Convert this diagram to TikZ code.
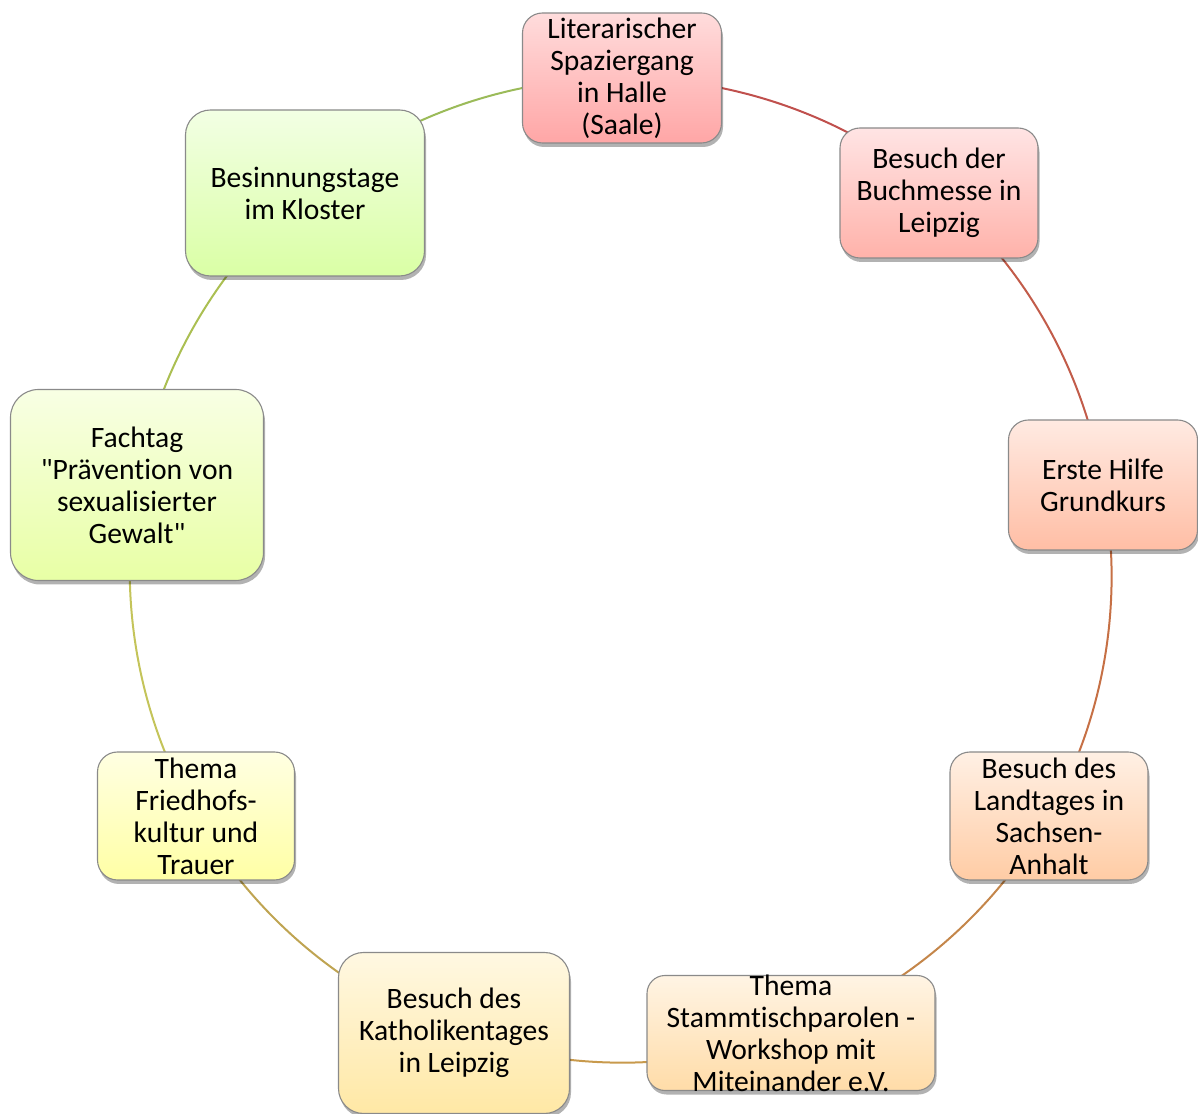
\documentclass[tikz,border=0pt]{standalone}
\usepackage{fontspec}
\setmainfont{Carlito}
\newfontfamily\calib{Carlito}[Ligatures=NoCommon]
\usetikzlibrary{shadows,backgrounds}
\definecolor{boxgray}{HTML}{8A8A8A}
\definecolor{cA}{HTML}{C0504D}
\definecolor{cB}{HTML}{C25C4A}
\definecolor{cC}{HTML}{C67045}
\definecolor{cD}{HTML}{C4864A}
\definecolor{cE}{HTML}{C89A4C}
\definecolor{cF}{HTML}{BFA452}
\definecolor{cG}{HTML}{C4C45A}
\definecolor{cH}{HTML}{ABBF52}
\definecolor{cI}{HTML}{9BBB59}
\begin{document}
\begin{tikzpicture}[x=1pt,y=1pt,
  cyc/.style={draw=boxgray, line width=1.1pt, align=center, inner sep=0pt,
    font=\calib\fontsize{29.6}{32}\selectfont,
    drop shadow={shadow xshift=1.5pt, shadow yshift=-4pt, opacity=0.3, fill=black}},
  txt/.style={align=center, inner sep=0pt, font=\calib\fontsize{29.6}{32}\selectfont},
  link/.style={line width=2pt, bend left=20, looseness=0.88}]
\useasboundingbox (0,0) rectangle (1198,1113);

\node[cyc, minimum width=199, minimum height=130, rounded corners=20,
  top color={rgb,255:red,255;green,220;blue,220}, bottom color={rgb,255:red,255;green,166;blue,166}]
  (n1) at (622,1035) {Literarischer\\Spaziergang\\in Halle\\(Saale)};
\node[cyc, minimum width=198, minimum height=130, rounded corners=20,
  top color={rgb,255:red,255;green,228;blue,228}, bottom color={rgb,255:red,255;green,178;blue,170}]
  (n2) at (939,920) {Besuch der\\Buchmesse in\\Leipzig};
\node[cyc, minimum width=189, minimum height=130, rounded corners=20,
  top color={rgb,255:red,255;green,234;blue,226}, bottom color={rgb,255:red,255;green,190;blue,165}]
  (n3) at (1103,628) {Erste Hilfe\\Grundkurs};
\node[cyc, minimum width=198, minimum height=128, rounded corners=20,
  top color={rgb,255:red,255;green,240;blue,228}, bottom color={rgb,255:red,255;green,204;blue,165}]
  (n4) at (1049,297) {Besuch des\\Landtages in\\Sachsen-\\Anhalt};
\node[cyc, minimum width=288, minimum height=115, rounded corners=18,
  top color={rgb,255:red,255;green,244;blue,228}, bottom color={rgb,255:red,255;green,220;blue,168}]
  (n5) at (791,80) {};
\node[txt] (n5t) at (n5.center) {Thema\\Stammtischparolen -\\Workshop mit\\Miteinander e.V.};
\node[cyc, minimum width=231, minimum height=161, rounded corners=25,
  top color={rgb,255:red,255;green,248;blue,226}, bottom color={rgb,255:red,255;green,232;blue,165}]
  (n6) at (454,80) {Besuch des\\Katholikentages\\in Leipzig};
\node[cyc, minimum width=197, minimum height=128, rounded corners=20,
  top color={rgb,255:red,255;green,255;blue,226}, bottom color={rgb,255:red,255;green,255;blue,165}]
  (n7) at (196,297) {Thema\\Friedhofs-\\kultur und\\Trauer};
\node[cyc, minimum width=253, minimum height=191, rounded corners=28,
  top color={rgb,255:red,248;green,255;blue,228}, bottom color={rgb,255:red,232;green,255;blue,165}]
  (n8) at (137,628) {Fachtag\\"Prävention von\\sexualisierter\\Gewalt"};
\node[cyc, minimum width=239, minimum height=166, rounded corners=25,
  top color={rgb,255:red,242;green,255;blue,228}, bottom color={rgb,255:red,218;green,255;blue,165}]
  (n9) at (305,920) {Besinnungstage\\im Kloster};

\begin{scope}[on background layer]
\draw[link, cA] (n1.center) to (n2.center);
\draw[link, cB] (n2.center) to (n3.center);
\draw[link, cC] (n3.center) to (n4.center);
\draw[link, cD] (n4.center) to (n5.center);
\draw[link, cE] (n5.center) to (n6.center);
\draw[link, cF] (n6.center) to (n7.center);
\draw[link, cG] (n7.center) to (n8.center);
\draw[link, cH] (n8.center) to (n9.center);
\draw[link, cI] (n9.center) to (n1.center);
\end{scope}
\end{tikzpicture}
\end{document}
